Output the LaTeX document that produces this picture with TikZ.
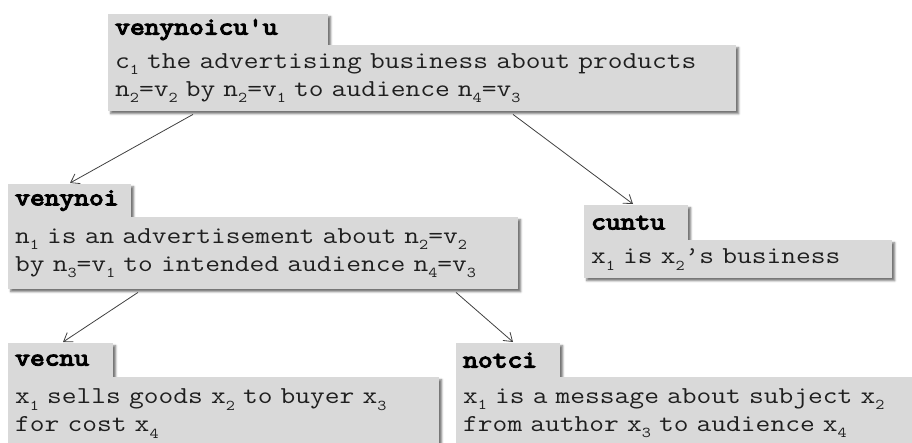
\documentclass[tikz,border=0pt]{standalone}
\usepackage{fontspec}
\setmonofont[FakeStretch=1.18, BoldFont={Latin Modern Mono}, BoldFeatures={FakeBold=5}]{Latin Modern Mono}
\usetikzlibrary{arrows.meta,shadows.blur}

% subscript in the body text
\newcommand{\sbx}[1]{\raisebox{-0.28em}{\fontsize{15}{15}\selectfont #1}}

\tikzset{
  box/.style={fill=black!15, draw=none, anchor=north west, inner xsep=7pt,
    inner ysep=0pt, text=black!88,
    blur shadow={shadow xshift=2.5pt, shadow yshift=-2.5pt,
      shadow blur radius=2pt, shadow opacity=55}},
  tabbox/.style={box, align=left, text=black, font=\ttfamily\bfseries\fontsize{24.3}{28}\selectfont},
  bodybox/.style={box, align=left, font=\ttfamily\fontsize{24.3}{28}\selectfont},
  link/.style={draw=black!75, line width=0.8pt,
    -{Straight Barb[length=8pt,width=11pt,line width=0.8pt]}}
}

\begin{document}
\begin{tikzpicture}[x=1pt,y=-1pt]
\useasboundingbox (0,0) rectangle (912,442);
\clip (0,0) rectangle (912,442);

% root entry
\node[tabbox, minimum width=220pt, minimum height=31pt, text width=206pt] (t0) at (108,14) {venynoicu'u};
\node[bodybox, minimum width=628pt, minimum height=66pt, text width=614pt] (b0) at (108,45)
  {c\sbx{1} the advertising business about products\\
   n\sbx{2}=v\sbx{2} by n\sbx{2}=v\sbx{1} to audience n\sbx{4}=v\sbx{3}};

% second level
\node[tabbox, minimum width=123pt, minimum height=33pt, text width=109pt] (t1) at (8,184) {venynoi};
\node[bodybox, minimum width=510pt, minimum height=72pt, text width=496pt] (b1) at (8,217)
  {n\sbx{1} is an advertisement about n\sbx{2}=v\sbx{2}\\
   by n\sbx{3}=v\sbx{1} to intended audience n\sbx{4}=v\sbx{3}};

\node[tabbox, minimum width=104pt, minimum height=35pt, text width=90pt] (t2) at (584,205) {cuntu};
\node[bodybox, minimum width=308pt, minimum height=38pt, text width=294pt] (b2) at (584,240)
  {x\sbx{1} is x\sbx{2}’s business};

% third level
\node[tabbox, minimum width=105pt, minimum height=34pt, text width=91pt] (t3) at (8,343) {vecnu};
\node[bodybox, minimum width=431pt, minimum height=72pt, text width=417pt] (b3) at (8,377)
  {x\sbx{1} sells goods x\sbx{2} to buyer x\sbx{3}\\
   for cost x\sbx{4}};

\node[tabbox, minimum width=104pt, minimum height=34pt, text width=90pt] (t4) at (456,343) {notci};
\node[bodybox, minimum width=470pt, minimum height=72pt, text width=456pt] (b4) at (456,377)
  {x\sbx{1} is a message about subject x\sbx{2}\\
   from author x\sbx{3} to audience x\sbx{4}};

% connectors
\draw[link] ([xshift=85pt,yshift=-3pt]b0.south west) -- ([xshift=62pt,yshift=1pt]t1.north west);
\draw[link] ([xshift=405pt,yshift=-3pt]b0.south west) -- ([xshift=49pt,yshift=1pt]t2.north west);
\draw[link] ([xshift=130pt,yshift=-3pt]b1.south west) -- ([xshift=55pt,yshift=1pt]t3.north west);
\draw[link] ([xshift=448pt,yshift=-3pt]b1.south west) -- ([xshift=57pt,yshift=1pt]t4.north west);
\end{tikzpicture}
\end{document}
